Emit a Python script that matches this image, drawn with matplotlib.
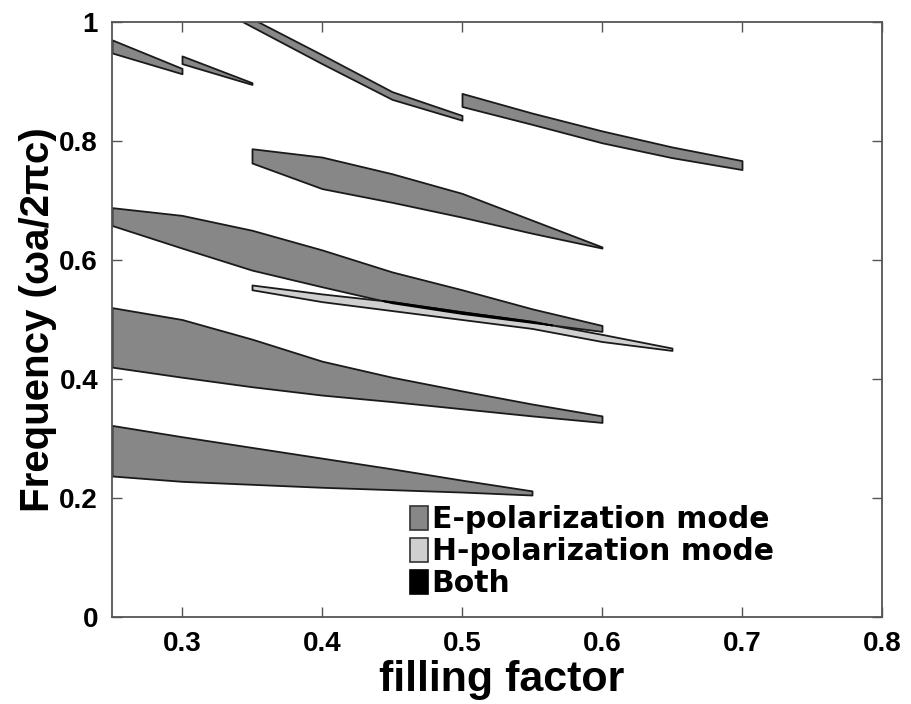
import numpy as np
import matplotlib
matplotlib.use("Agg")
import matplotlib.pyplot as plt
from matplotlib.patches import Patch

plt.rcParams['font.family'] = ['Liberation Sans', 'DejaVu Sans']

# E-polarization gaps (filling factor, upper / lower edge of the gap)
band1_x = [0.25, 0.30, 0.35, 0.40, 0.45, 0.50, 0.55]
band1_upper = [0.322, 0.303, 0.285, 0.267, 0.249, 0.230, 0.212]
band1_lower = [0.237, 0.228, 0.223, 0.218, 0.214, 0.210, 0.205]

band2_x = [0.25, 0.30, 0.35, 0.40, 0.45, 0.50, 0.55, 0.60]
band2_upper = [0.520, 0.500, 0.467, 0.430, 0.403, 0.380, 0.358, 0.338]
band2_lower = [0.420, 0.403, 0.387, 0.373, 0.362, 0.350, 0.338, 0.327]

band3_x = [0.25, 0.30, 0.35, 0.40, 0.45, 0.50, 0.55, 0.60]
band3_upper = [0.688, 0.675, 0.650, 0.617, 0.580, 0.550, 0.518, 0.490]
band3_lower = [0.658, 0.620, 0.583, 0.555, 0.528, 0.510, 0.495, 0.480]

band4_x = [0.35, 0.40, 0.45, 0.50, 0.55, 0.60]
band4_upper = [0.787, 0.773, 0.745, 0.712, 0.667, 0.622]
band4_lower = [0.763, 0.720, 0.697, 0.672, 0.645, 0.620]

band5_x = [0.50, 0.55, 0.60, 0.65, 0.70]
band5_upper = [0.880, 0.847, 0.817, 0.790, 0.767]
band5_lower = [0.858, 0.828, 0.797, 0.772, 0.752]

band6_x = [0.25, 0.30]
band6_upper = [0.970, 0.922]
band6_lower = [0.948, 0.913]

band7_x = [0.30, 0.35]
band7_upper = [0.943, 0.898]
band7_lower = [0.930, 0.895]

band8_x = [0.33, 0.40, 0.45, 0.50]
band8_upper = [1.030, 0.945, 0.883, 0.843]
band8_lower = [1.017, 0.930, 0.870, 0.835]

# H-polarization gap
h_x = [0.35, 0.40, 0.45, 0.50, 0.55, 0.60, 0.65]
h_upper = [0.558, 0.543, 0.530, 0.513, 0.497, 0.475, 0.452]
h_lower = [0.550, 0.530, 0.515, 0.500, 0.485, 0.463, 0.448]

x_ticks = [0.3, 0.4, 0.5, 0.6, 0.7, 0.8]
x_ticklabels = ['0.3', '0.4', '0.5', '0.6', '0.7', '0.8']
y_ticks = [0, 0.2, 0.4, 0.6, 0.8, 1.0]
y_ticklabels = ['0', '0.2', '0.4', '0.6', '0.8', '1']

legend_labels = ['E-polarization mode', 'H-polarization mode', 'Both']

e_color = '#878787'
h_color = '#cfcfcf'
both_color = 'black'
edge = '#1a1a1a'

fig = plt.figure(figsize=(9.11, 7.04), dpi=100)
ax = fig.add_axes([112 / 911, 1 - 617 / 704, 770 / 911, 595 / 704])

e_bands = [
    (band1_x, band1_upper, band1_lower),
    (band2_x, band2_upper, band2_lower),
    (band3_x, band3_upper, band3_lower),
    (band4_x, band4_upper, band4_lower),
    (band5_x, band5_upper, band5_lower),
    (band6_x, band6_upper, band6_lower),
    (band7_x, band7_upper, band7_lower),
    (band8_x, band8_upper, band8_lower),
]
for bx, bu, bl in e_bands:
    ax.fill_between(bx, bl, bu, facecolor=e_color, edgecolor=edge, linewidth=1.3)

ax.fill_between(h_x, h_lower, h_upper, facecolor=h_color, edgecolor=edge, linewidth=1.3)

# overlap of the E gap (band 3) and the H gap
hx = np.array(h_x)
e3_lo = np.interp(hx, band3_x, band3_lower)
e3_hi = np.interp(hx, band3_x, band3_upper)
lo = np.maximum(np.array(h_lower), e3_lo)
hi = np.minimum(np.array(h_upper), e3_hi)
ax.fill_between(hx, lo, hi, where=hi > lo, interpolate=True,
                facecolor=both_color, edgecolor=both_color, linewidth=1.2)

ax.set_xlim(0.25, 0.8)
ax.set_ylim(0, 1)
ax.set_xticks(x_ticks)
ax.set_xticklabels(x_ticklabels)
ax.set_yticks(y_ticks)
ax.set_yticklabels(y_ticklabels)
ax.tick_params(direction='in', top=True, right=True, length=7, width=1,
               color='#555555', labelsize=20, pad=10)
for lab in ax.get_xticklabels() + ax.get_yticklabels():
    lab.set_fontweight('bold')
for sp in ax.spines.values():
    sp.set_color('#555555')
    sp.set_linewidth(1.3)

ax.set_xlabel('filling factor', fontsize=31, fontweight='bold')
ax.xaxis.set_label_coords(0.506, -0.072)
ax.set_ylabel('Frequency (\u03c9a/2\u03c0c)', fontsize=29, fontweight='bold')
ax.yaxis.set_label_coords(-0.071, 0.5)

handles = [Patch(facecolor=e_color, edgecolor='#333333', linewidth=1.2),
           Patch(facecolor=h_color, edgecolor='#333333', linewidth=1.2),
           Patch(facecolor=both_color, edgecolor='black', linewidth=1.2)]
ax.legend(handles, legend_labels, loc='upper left',
          bbox_to_anchor=(410 / 911, 1 - 505 / 704), bbox_transform=fig.transFigure,
          frameon=False, borderpad=0, borderaxespad=0,
          handlelength=0.6, handleheight=0.85, handletextpad=0.12,
          labelspacing=0.1,
          prop={'family': ['DejaVu Sans'], 'weight': 'bold', 'size': 21.5})

fig.savefig('out.png', dpi=100)
